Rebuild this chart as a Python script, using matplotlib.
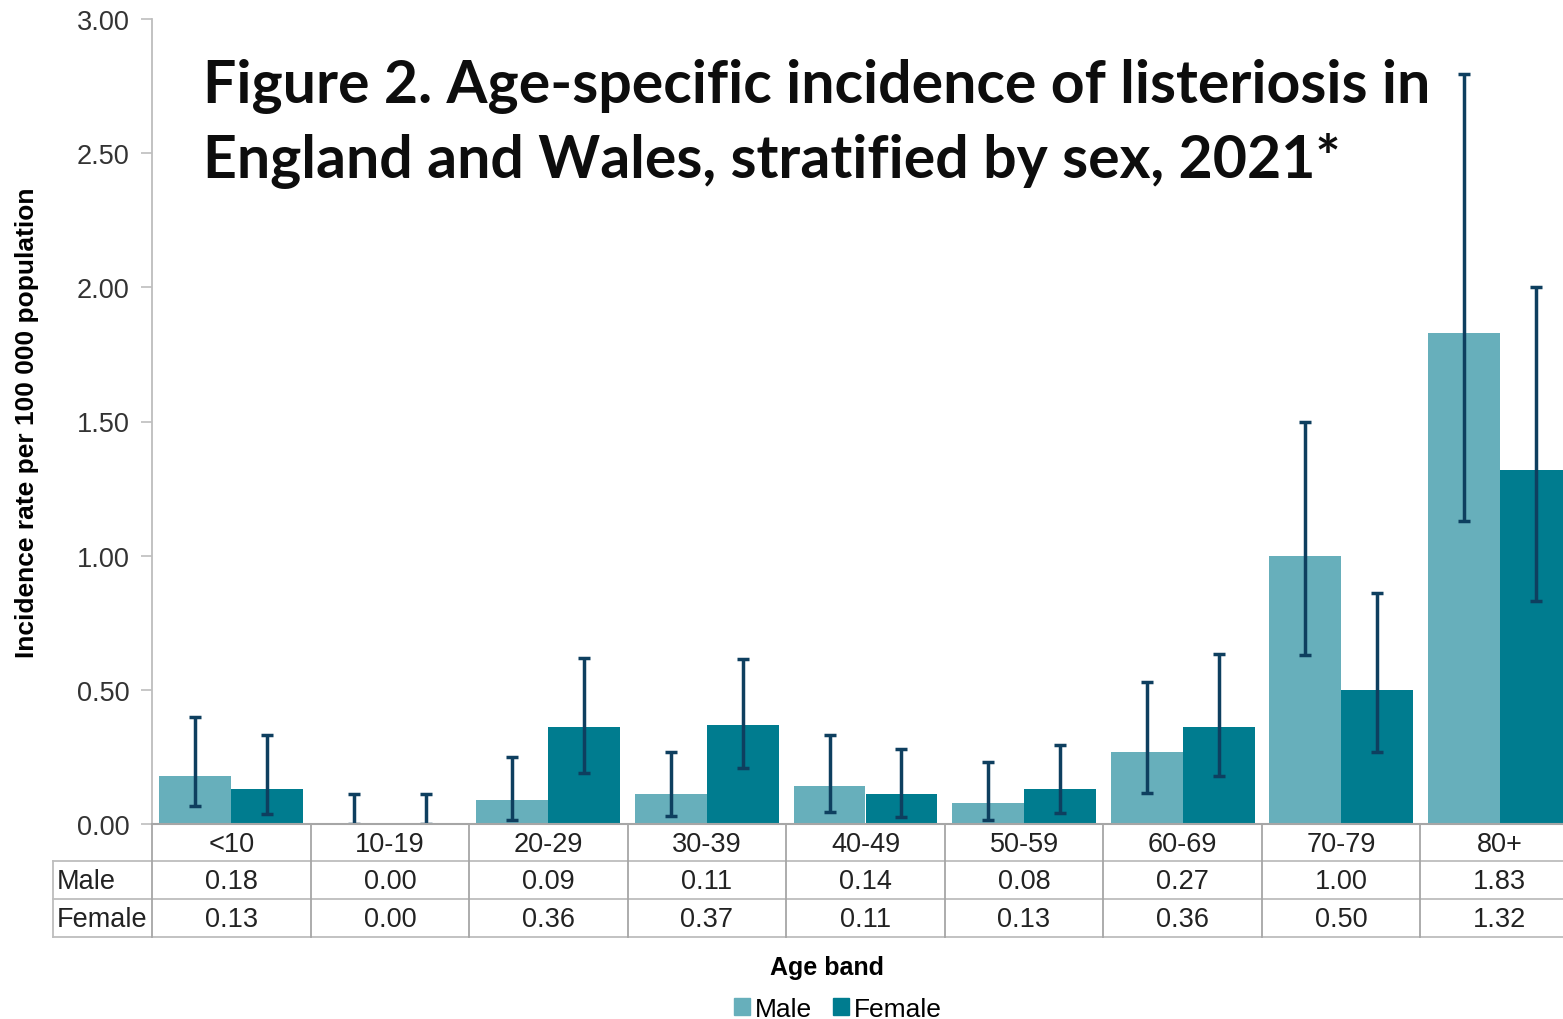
import numpy as np
import matplotlib.pyplot as plt
from matplotlib.patches import Patch
from matplotlib.transforms import blended_transform_factory

age_bands = ["<10", "10-19", "20-29", "30-39", "40-49", "50-59", "60-69", "70-79", "80+"]
male = [0.18, 0.00, 0.09, 0.11, 0.14, 0.08, 0.27, 1.00, 1.83]
female = [0.13, 0.00, 0.36, 0.37, 0.11, 0.13, 0.36, 0.50, 1.32]
# 95% CI
male_lo = [0.067, 0.0, 0.015, 0.03, 0.045, 0.015, 0.115, 0.63, 1.13]
male_hi = [0.40, 0.11, 0.25, 0.27, 0.33, 0.23, 0.53, 1.50, 2.795]
female_lo = [0.037, 0.0, 0.19, 0.21, 0.026, 0.04, 0.18, 0.27, 0.83]
female_hi = [0.33, 0.11, 0.62, 0.615, 0.28, 0.295, 0.635, 0.86, 2.00]
yticks = [0.0, 0.5, 1.0, 1.5, 2.0, 2.5, 3.0]
title_lines = ["Figure 2. Age-specific incidence of listeriosis in",
               "England and Wales, stratified by sex, 2021*"]

c_male = "#67AFBB"
c_female = "#007C8F"
c_err = "#0E3F5F"
c_grid = "#BDBDBD"
c_txt = "#222222"

plt.rcParams["font.family"] = ["Liberation Sans", "DejaVu Sans"]

W, H = 1563, 1020
fig = plt.figure(figsize=(W / 100, H / 100), dpi=100)
ax = fig.add_axes([152 / W, (H - 825) / H, (1579 - 152) / W, (825 - 20) / H])

x = np.arange(len(age_bands))
w = 0.454
male = np.array(male); female = np.array(female)
ax.bar(x - w / 2, male, w, color=c_male, zorder=2)
ax.bar(x + w / 2, female, w, color=c_female, zorder=2)
ax.errorbar(x - w / 2, male, yerr=[male - np.array(male_lo), np.array(male_hi) - male],
            fmt="none", ecolor=c_err, elinewidth=2.5, capsize=4.5, capthick=2.5, zorder=3)
ax.errorbar(x + w / 2, female, yerr=[female - np.array(female_lo), np.array(female_hi) - female],
            fmt="none", ecolor=c_err, elinewidth=2.5, capsize=4.5, capthick=2.5, zorder=3)

ax.set_xlim(-0.5, len(age_bands) - 0.5)
ax.set_ylim(0, 3.0)
ax.set_yticks(yticks)
ax.set_yticklabels([f"{v:.2f}" for v in yticks], fontsize=19.5, color="#333333")
ax.tick_params(axis="y", length=8, width=1.2, color=c_grid, pad=8)
ax.set_xticks([])
for s in ["top", "right"]:
    ax.spines[s].set_visible(False)
ax.spines["left"].set_color(c_grid)
ax.spines["left"].set_linewidth(1.3)
ax.spines["bottom"].set_color("#A6A6A6")
ax.spines["bottom"].set_linewidth(1.5)
ax.spines["bottom"].set_zorder(4)

# data table beneath the axis, y in figure pixels
tr = blended_transform_factory(ax.transData, fig.transFigure)
def fy(py):
    return (H - py) / H

row_top, row1, row2, row_bot = 825, 862, 900, 938
x_left = -0.5 - (152 - 53) / 158.6
for py in (row1, row2, row_bot):
    ax.plot([x_left, 8.6], [fy(py)] * 2, transform=tr, color=c_grid, lw=1.3, clip_on=False)
ax.plot([x_left] * 2, [fy(row1), fy(row_bot)], transform=tr, color=c_grid, lw=1.3, clip_on=False)
for b in np.arange(len(age_bands)) - 0.5:
    ax.plot([b, b], [fy(row_top), fy(row_bot)], transform=tr, color="#A6A6A6", lw=1.3, clip_on=False)

for i, lab in enumerate(age_bands):
    ax.text(i, fy((row_top + row1) / 2 + 2), lab, transform=tr, ha="center", va="center",
            fontsize=19.5, color=c_txt)
    ax.text(i, fy((row1 + row2) / 2 + 1), f"{male[i]:.2f}", transform=tr, ha="center", va="center",
            fontsize=19.5, color=c_txt)
    ax.text(i, fy((row2 + row_bot) / 2 + 1), f"{female[i]:.2f}", transform=tr, ha="center", va="center",
            fontsize=19.5, color=c_txt)
fig.text(57 / W, fy((row1 + row2) / 2 + 1), "Male", ha="left", va="center", fontsize=19.5, color=c_txt)
fig.text(57 / W, fy((row2 + row_bot) / 2 + 1), "Female", ha="left", va="center", fontsize=19.5, color=c_txt)

fig.text(827 / W, fy(968), "Age band", ha="center", va="center", fontsize=18, fontweight="bold")
fig.text(27 / W, fy(423), "Incidence rate per 100 000 population", rotation=90,
         ha="center", va="center", fontsize=19, fontweight="bold")

handles = [Patch(color=c_male, label="Male"), Patch(color=c_female, label="Female")]
fig.legend(handles=handles, loc="center", bbox_to_anchor=(838 / W, fy(1010)), ncol=2, frameon=False,
           fontsize=19, handlelength=0.6, handleheight=0.6, handletextpad=0.2, columnspacing=0.8)

for line, base in zip(title_lines, (103, 178)):
    fig.text(203 / W, fy(base), line, ha="left", va="baseline", fontsize=42.5, fontweight="bold",
             family=["Lato", "DejaVu Sans"], color="#0D0D0D")

fig.savefig("out.png", dpi=100)
